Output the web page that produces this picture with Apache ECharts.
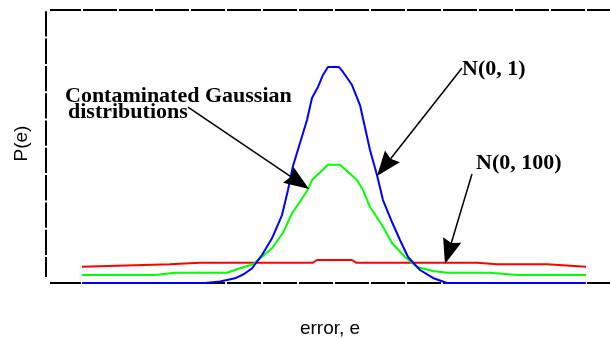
<!DOCTYPE html>
<html><head><meta charset="utf-8">
<script src="https://cdn.jsdelivr.net/npm/echarts@6/dist/echarts.min.js"></script>
<style>html,body{margin:0;padding:0;background:#fff}#c{width:610px;height:339px}</style>
</head><body><div id="c"></div>
<script>
// Series values (x = error e, y = P(e))
const blueX = [-7,-3.583,-3.167,-2.75,-2.5,-2.278,-2.0,-1.722,-1.444,-1.278,-1.139,-0.944,-0.75,-0.611,-0.444,-0.306,-0.167,0.139,0.25,0.5,0.722,1.0,1.194,1.361,1.611,1.833,2.056,2.389,2.75,3.139,7];
const blueY = [0,0,0.0027,0.0086,0.0165,0.0269,0.0513,0.0819,0.1245,0.1703,0.2143,0.2564,0.2985,0.3388,0.359,0.381,0.3956,0.3956,0.3865,0.3626,0.326,0.2436,0.1978,0.152,0.1117,0.0788,0.0476,0.0238,0.0092,0,0];
const greenX = [-7,-4.972,-4.417,-2.972,-2.694,-2.25,-2,-1.722,-1.417,-1.167,-0.944,-0.722,-0.611,-0.167,0.167,0.639,0.806,1.0,1.333,1.611,1.972,2.306,2.75,3.139,4.333,5.083,7];
const greenY = [0.0147,0.0147,0.0189,0.0189,0.0251,0.0342,0.0482,0.0636,0.0921,0.1277,0.1489,0.1716,0.1886,0.2167,0.2167,0.1886,0.1703,0.1392,0.1062,0.0733,0.0476,0.0293,0.022,0.0189,0.0189,0.0147,0.0147];
const redX = [-7,-4.556,-3.722,-0.583,-0.472,0.5,0.611,3.972,4.528,5.917,7];
const redY = [0.0299,0.0342,0.0372,0.0372,0.0421,0.0421,0.0372,0.0372,0.0342,0.0342,0.0299];

// Annotations (data coordinates)
const arrowFrom = [[-4.056,0.3223],[3.556,0.3938],[3.833,0.1996]];
const arrowTo = [[-0.694,0.1722],[1.194,0.196],[3.083,0.0348]];
const noteTexts = ['Contaminated Gaussian','distributions','N(0, 1)','N(0, 100)'];
const axisNames = ['error, e','P(e)'];

const X_MIN = -7.889, X_MAX = 7.667, Y_MIN = 6/546, Y_MAX = 0.5;

function pairs(xs, ys){ return xs.map((x,i)=>[x, ys[i]]); }

const chart = echarts.init(document.getElementById('c'), null, {renderer:'canvas'});
const dashX = {color:'#000', width:2, type:[34,2], dashOffset:3, cap:'butt'};
const option = {
  animation:false,
  backgroundColor:'#fff',
  grid:{left:50, right:0, top:10, bottom:62, outerBoundsMode:'none', containLabel:false},
  xAxis:[
    {type:'value', min:X_MIN, max:X_MAX, position:'bottom', offset:6,
     axisLine:{show:true, onZero:false, lineStyle:dashX},
     axisTick:{show:false}, axisLabel:{show:false}, splitLine:{show:false},
     name:axisNames[0], nameLocation:'middle', nameGap:36,
     nameTextStyle:{fontFamily:'Liberation Sans', fontSize:19, color:'#000'}},
    {type:'value', min:X_MIN, max:X_MAX, position:'top',
     axisLine:{show:true, onZero:false, lineStyle:dashX},
     axisTick:{show:false}, axisLabel:{show:false}, splitLine:{show:false}}
  ],
  yAxis:{type:'value', min:Y_MIN, max:Y_MAX, offset:4,
     axisLine:{show:true, onZero:false, lineStyle:{color:'#000', width:2, type:[25.3,2], dashOffset:5.3, cap:'butt'}},
     axisTick:{show:false}, axisLabel:{show:false}, splitLine:{show:false},
     name:axisNames[1], nameLocation:'middle', nameGap:15,
     nameTextStyle:{fontFamily:'Liberation Sans', fontSize:19, color:'#000'}},
  series:[
    {type:'line', data:pairs(redX, redY), showSymbol:false, clip:false, lineStyle:{color:'#ff0000', width:2}},
    {type:'line', data:pairs(greenX, greenY), showSymbol:false, clip:false, lineStyle:{color:'#00ff00', width:2}},
    {type:'line', data:pairs(blueX, blueY), showSymbol:false, clip:false, lineStyle:{color:'#0000ff', width:2}}
  ]
};
chart.setOption(option);

const graphics = [];
const L = 25, W = 9.5, N = 3;
arrowFrom.forEach((f,i)=>{
  const p0 = chart.convertToPixel({xAxisIndex:0, yAxisIndex:0}, f);
  const p1 = chart.convertToPixel({xAxisIndex:0, yAxisIndex:0}, arrowTo[i]);
  const dx = p1[0]-p0[0], dy = p1[1]-p0[1], len = Math.hypot(dx,dy);
  const ux = dx/len, uy = dy/len, nx = -uy, ny = ux;
  const bx = p1[0]-ux*L, by = p1[1]-uy*L;
  graphics.push({type:'line', shape:{x1:p0[0], y1:p0[1], x2:p1[0]-ux*(L-N), y2:p1[1]-uy*(L-N)}, style:{stroke:'#000', lineWidth:1.5}, z:10});
  graphics.push({type:'polygon', shape:{points:[[p1[0],p1[1]],[bx+nx*W,by+ny*W],[p1[0]-ux*(L-N),p1[1]-uy*(L-N)],[bx-nx*W,by-ny*W]]}, style:{fill:'#000'}, z:10});
});
const noteFont = 'bold 22px "Liberation Serif"';
const notePos = [[65,96],[68,112],[462,69],[476,163]];
noteTexts.forEach((t,i)=>{
  graphics.push({type:'text', x:notePos[i][0], y:notePos[i][1], style:{text:t, font:noteFont, fill:'#000', verticalAlign:'middle', align:'left'}, z:11});
});
chart.setOption({graphic:graphics});
</script>
</body></html>
